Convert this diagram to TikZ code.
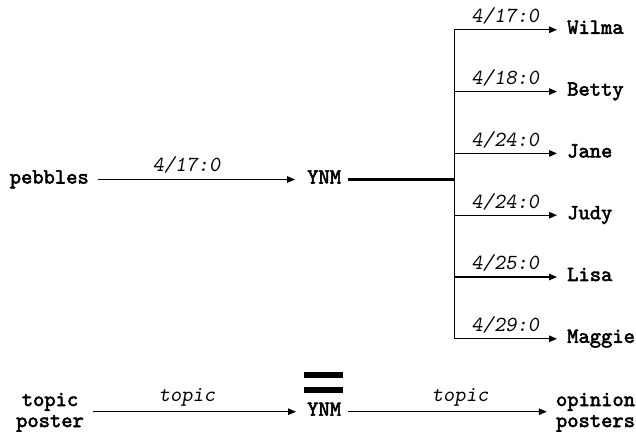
\documentclass[tikz,border=0pt]{standalone}
\usepackage{fontspec}
\newfontfamily\ndfont[Extension=.otf, FakeBold=2.5]{lmmono10-regular}
\newfontfamily\lbfont[Extension=.otf]{lmmonoslant10-regular}
\usetikzlibrary{arrows.meta}
\tikzset{
  nd/.style={inner sep=0pt, font=\ndfont\fontsize{21.5}{21}\selectfont, text height=11pt, text depth=3pt},
  ndm/.style={inner sep=0pt, font=\ndfont\fontsize{21.5}{21}\selectfont, align=center},
  lbl/.style={inner sep=0pt, anchor=base, font=\lbfont\fontsize{21.5}{21}\selectfont},
  arr/.style={line width=1.3pt, -{Triangle[length=8pt,width=6.5pt]}},
  bar/.style={fill=black, inner sep=0pt, minimum width=39pt, minimum height=6pt},
}
\begin{document}
\begin{tikzpicture}[x=1pt,y=1pt]
\useasboundingbox (0,0) rectangle (636,431);
% top part
\node[nd, anchor=east] (peb) at (89,251.5) {pebbles};
\node[nd, anchor=west] (ynma) at (307,251.5) {YNM};
\coordinate (j) at (454.3,251.5);
\coordinate (b1) at (454.3,401.2);
\coordinate (b2) at (454.3,339.4);
\coordinate (b3) at (454.3,277.6);
\coordinate (b4) at (454.3,215.8);
\coordinate (b5) at (454.3,154);
\coordinate (b6) at (454.3,92.2);
\node[nd, anchor=west] (t1) at (567,401.2) {Wilma};
\node[nd, anchor=west] (t2) at (567,339.4) {Betty};
\node[nd, anchor=west] (t3) at (567,277.6) {Jane};
\node[nd, anchor=west] (t4) at (567,215.8) {Judy};
\node[nd, anchor=west] (t5) at (567,154) {Lisa};
\node[nd, anchor=west] (t6) at (567,92.2) {Maggie};
\draw[arr, shorten <=9pt, shorten >=12pt] (peb.east) -- node[lbl, pos=0.447, yshift=7.5pt] (l0) {4/17:0} (ynma.west);
\draw[line width=2.5pt, shorten <=7pt] (ynma.east) -- (j);
\draw[line width=1.3pt] (b1) -- (b6);
\foreach \i/\t in {1/4\slash 17:0,2/4\slash 18:0,3/4\slash 24:0,4/4\slash 24:0,5/4\slash 25:0,6/4\slash 29:0}{
  \draw[arr, shorten >=10pt] (b\i) -- node[lbl, pos=0.4526, yshift=7pt] (l\i) {\t} (t\i.west);
}
% bottom part
\node[ndm, anchor=base] (tp) at (50,4) {topic\\poster};
\node[nd, anchor=west] (ynmb) at (307,19.3) {YNM};
\node[ndm, anchor=base] (op) at (595.5,4) {opinion\\posters};
\node[bar] (eqa) at (323.9,56.3) {};
\node[bar] (eqb) at (323.9,41.5) {};
\draw[arr, shorten <=9pt, shorten >=11pt] (tp.east |- ynmb.west) -- node[lbl, pos=0.462, yshift=10pt] (lt1) {topic} (ynmb.west);
\draw[arr, shorten <=7pt, shorten >=9pt] (ynmb.east) -- node[lbl, pos=0.554, yshift=10pt] (lt2) {topic} (op.west |- ynmb.east);
\end{tikzpicture}
\end{document}
